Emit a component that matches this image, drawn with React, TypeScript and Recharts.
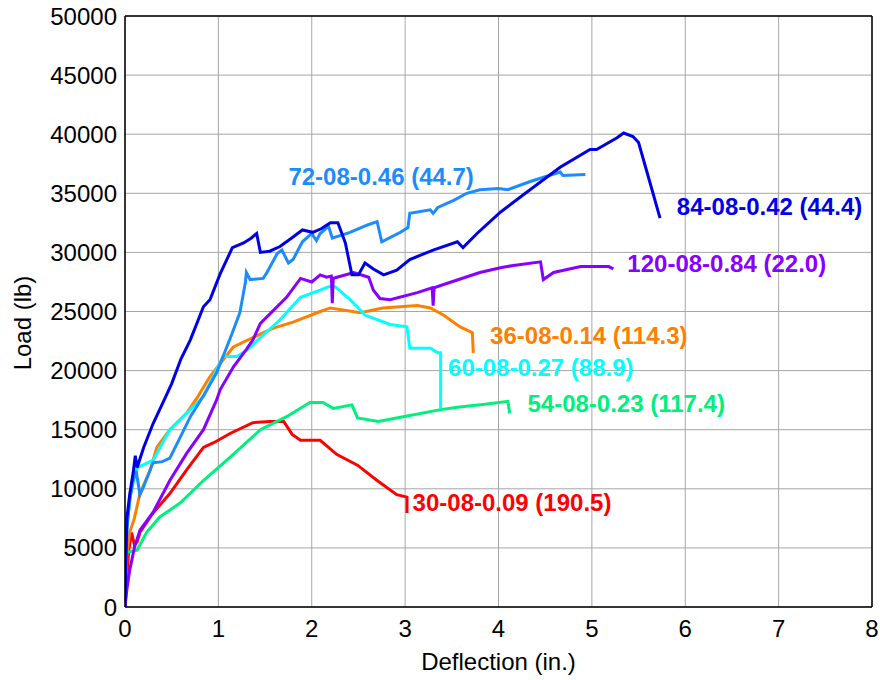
import React from 'react';
import {
  LineChart,
  Line,
  XAxis,
  YAxis,
  CartesianGrid,
  ReferenceLine,
  ReferenceDot,
  Label,
} from 'recharts';

// deflection (in.), load (lb)
const s84: [number, number][] = [
  [0, 0], [0.01, 4000], [0.02, 7500], [0.05, 9500], [0.09, 11500], [0.11, 12800], [0.13, 11800],
  [0.2, 13500], [0.3, 15500], [0.43, 17700], [0.5, 18900], [0.6, 21000], [0.7, 22600],
  [0.84, 25400], [0.91, 26000], [1.02, 28200], [1.15, 30400], [1.27, 30800], [1.35, 31200],
  [1.41, 31600], [1.45, 30000], [1.55, 30100], [1.66, 30500], [1.8, 31300], [1.9, 31900],
  [2.01, 31700], [2.1, 32000], [2.2, 32500], [2.28, 32500], [2.36, 30800], [2.43, 28100],
  [2.5, 28100], [2.57, 29100], [2.66, 28600], [2.77, 28100], [2.91, 28500], [3.05, 29400],
  [3.3, 30200], [3.56, 30900], [3.62, 30400], [3.77, 31600], [4.02, 33400], [4.27, 34900],
  [4.66, 37200], [4.98, 38700], [5.05, 38700], [5.27, 39700], [5.34, 40100], [5.44, 39800],
  [5.5, 39300], [5.59, 36800], [5.73, 32900],
];

const s72: [number, number][] = [
  [0, 0], [0.02, 6500], [0.05, 9000], [0.08, 10500], [0.12, 11500], [0.16, 9500], [0.2, 10200],
  [0.3, 12200], [0.4, 12300], [0.48, 12600], [0.6, 14500], [0.7, 16100], [0.85, 18000],
  [0.98, 19800], [1.13, 22800], [1.23, 24900], [1.29, 27500], [1.3, 28300], [1.34, 27700],
  [1.48, 27800], [1.52, 28300], [1.63, 29900], [1.68, 30200], [1.75, 29100], [1.8, 29400],
  [1.9, 30900], [2.0, 31600], [2.05, 31000], [2.09, 31600], [2.18, 32200], [2.22, 31200],
  [2.41, 31700], [2.59, 32300], [2.7, 32600], [2.75, 30900], [2.95, 31700], [3.03, 32100],
  [3.05, 33300], [3.27, 33600], [3.3, 33300], [3.35, 33800], [3.52, 34400], [3.66, 35000],
  [3.8, 35300], [4.0, 35400], [4.1, 35300], [4.34, 36000], [4.66, 36800], [4.69, 36500],
  [4.93, 36600],
];

const s120: [number, number][] = [
  [0, 0], [0.02, 1500], [0.05, 3100], [0.1, 5000], [0.16, 6500], [0.3, 8000], [0.48, 10700],
  [0.66, 13000], [0.84, 15000], [0.98, 17500], [1.02, 18400], [1.16, 20300], [1.3, 21800],
  [1.37, 22600], [1.45, 24000], [1.59, 25100], [1.73, 26200], [1.88, 27800], [2.0, 27500],
  [2.09, 28100], [2.16, 27900], [2.21, 28000], [2.22, 25700], [2.23, 27800], [2.27, 27900],
  [2.45, 28300], [2.61, 27900], [2.66, 26800], [2.73, 26100], [2.84, 26000], [3.13, 26600],
  [3.29, 27000], [3.3, 25500], [3.31, 27000], [3.38, 27200], [3.8, 28300], [4.02, 28700],
  [4.16, 28900], [4.45, 29200], [4.48, 27700], [4.59, 28300], [4.88, 28800], [5.18, 28800],
  [5.23, 28600],
];

const s36: [number, number][] = [
  [0, 0], [0.02, 4500], [0.05, 6300], [0.1, 7500], [0.16, 9600], [0.27, 11600], [0.34, 13500],
  [0.48, 15000], [0.66, 16400], [0.78, 17800], [0.91, 19500], [1.02, 20600], [1.16, 22000],
  [1.37, 22800], [1.59, 23600], [1.8, 24100], [2.09, 25000], [2.2, 25300], [2.52, 24900],
  [2.76, 25300], [3.13, 25500], [3.27, 25300], [3.41, 24700], [3.59, 23700], [3.72, 23200],
  [3.73, 21500],
];

const s60: [number, number][] = [
  [0, 0], [0.02, 7000], [0.06, 9500], [0.1, 11000], [0.13, 11800], [0.3, 12400], [0.48, 15000],
  [0.66, 16400], [0.84, 17800], [1.05, 21200], [1.2, 21200], [1.3, 21700], [1.45, 22800],
  [1.66, 24300], [1.88, 26200], [2.09, 26800], [2.18, 27100], [2.25, 27100], [2.41, 26000],
  [2.57, 24700], [2.84, 23900], [3.02, 23700], [3.05, 21900], [3.27, 21900], [3.35, 21500],
  [3.38, 21500], [3.38, 16800],
];

const s54: [number, number][] = [
  [0, 0], [0.01, 4600], [0.13, 4800], [0.23, 6300], [0.37, 7600], [0.59, 8800], [0.84, 10700],
  [1.13, 12700], [1.45, 15000], [1.73, 16100], [1.98, 17300], [2.12, 17300], [2.23, 16800],
  [2.43, 17100], [2.49, 16000], [2.71, 15700], [2.98, 16100], [3.38, 16700], [3.56, 16900],
  [3.9, 17200], [4.1, 17400], [4.12, 16400],
];

const s30: [number, number][] = [
  [0, 0], [0.02, 2500], [0.04, 4800], [0.07, 6300], [0.1, 5300], [0.13, 5500], [0.16, 6300],
  [0.3, 7950], [0.48, 9600], [0.66, 11600], [0.84, 13500], [0.95, 13900], [1.13, 14700],
  [1.37, 15600], [1.55, 15700], [1.7, 15700], [1.79, 14600], [1.88, 14100], [2.09, 14100],
  [2.27, 12900], [2.49, 12000], [2.7, 10700], [2.91, 9500], [3.02, 9300], [3.02, 7950],
];

const xTicks = [0, 1, 2, 3, 4, 5, 6, 7, 8];
const yTicks = [0, 5000, 10000, 15000, 20000, 25000, 30000, 35000, 40000, 45000, 50000];

// name, data, colour, label anchor (data units)
const series = [
  { name: '30-08-0.09 (190.5)', pts: s30, color: '#ff0000', lx: 3.08, ly: 8800 },
  { name: '36-08-0.14 (114.3)', pts: s36, color: '#ff8000', lx: 3.91, ly: 23000 },
  { name: '54-08-0.23 (117.4)', pts: s54, color: '#00f07c', lx: 4.31, ly: 17250 },
  { name: '60-08-0.27 (88.9)', pts: s60, color: '#00ffff', lx: 3.46, ly: 20300 },
  { name: '72-08-0.46 (44.7)', pts: s72, color: '#1a8cff', lx: 1.75, ly: 36400 },
  { name: '120-08-0.84 (22.0)', pts: s120, color: '#8800ff', lx: 5.38, ly: 29100 },
  { name: '84-08-0.42 (44.4)', pts: s84, color: '#0000e6', lx: 5.91, ly: 33850 },
];

const FONT = 'Arial, "Liberation Sans", sans-serif';

export default function App() {
  return (
    <div style={{ position: 'absolute', left: 0, top: 0, background: '#fff' }}>
      <LineChart width={880} height={680} margin={{ top: 16, right: 8, left: 0, bottom: 0 }}>
        <CartesianGrid stroke="#a6a6a6" strokeWidth={1} />
        <XAxis
          type="number"
          dataKey="x"
          domain={[0, 8]}
          ticks={xTicks}
          allowDataOverflow
          height={73}
          tickLine={false}
          tickSize={0}
          tickMargin={13}
          axisLine={{ stroke: '#000', strokeWidth: 1.5 }}
          tick={{ fill: '#000', fontSize: 24, fontFamily: FONT }}
        >
          <Label
            content={(props: any) => {
              const vb = props.viewBox || {};
              return (
                <text
                  x={vb.x + vb.width / 2}
                  y={vb.y + 63}
                  textAnchor="middle"
                  fontSize={24}
                  fontFamily={FONT}
                  fill="#000"
                >
                  Deflection (in.)
                </text>
              );
            }}
          />
        </XAxis>
        <YAxis
          type="number"
          dataKey="y"
          domain={[0, 50000]}
          ticks={yTicks}
          allowDataOverflow
          width={125}
          tickLine={false}
          tickSize={0}
          tickMargin={8}
          axisLine={{ stroke: '#000', strokeWidth: 1.5 }}
          tick={{ fill: '#000', fontSize: 24, fontFamily: FONT }}
        >
          <Label
            content={() => (
              <text
                x={22}
                y={323}
                transform="rotate(-90 22 323)"
                textAnchor="middle"
                dominantBaseline="central"
                fontSize={24}
                fontFamily={FONT}
                fill="#000"
              >
                Load (lb)
              </text>
            )}
          />
        </YAxis>
        <ReferenceLine x={8} stroke="#000" strokeWidth={1.5} />
        <ReferenceLine y={50000} stroke="#000" strokeWidth={1.5} />
        {series.map((s) => (
          <Line
            key={s.name}
            data={s.pts.map(([x, y]) => ({ x, y }))}
            dataKey="y"
            type="linear"
            stroke={s.color}
            strokeWidth={3}
            dot={false}
            activeDot={false}
            isAnimationActive={false}
          />
        ))}
        {series.map((s) => (
          <ReferenceDot
            key={'lbl-' + s.name}
            x={s.lx}
            y={s.ly}
            r={1}
            fill="none"
            stroke="none"
            ifOverflow="visible"
            label={{
              content: (props: any) => {
                const vb = props.viewBox || {};
                return (
                  <text
                    x={vb.x + 1}
                    y={vb.y + 1}
                    dominantBaseline="central"
                    fontSize={24}
                    fontWeight="bold"
                    fontFamily={FONT}
                    fill={s.color}
                  >
                    {s.name}
                  </text>
                );
              },
            }}
          />
        ))}
      </LineChart>
    </div>
  );
}
